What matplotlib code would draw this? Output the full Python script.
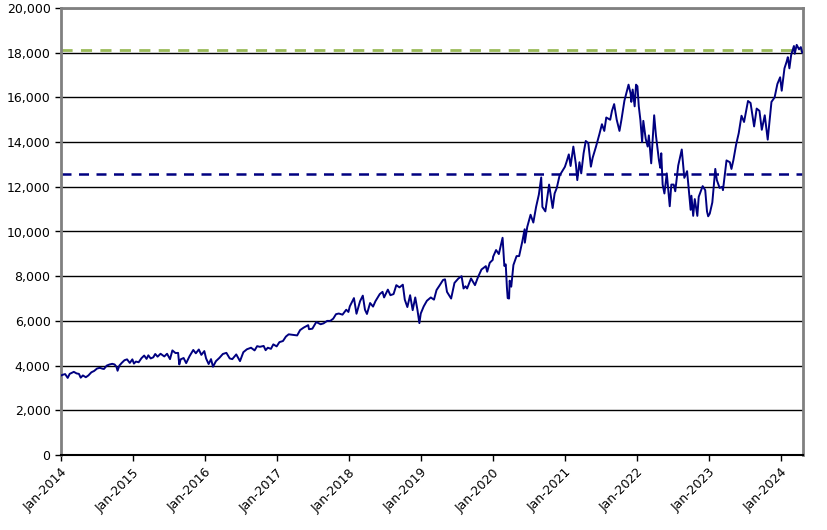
import matplotlib
matplotlib.use('Agg')
import matplotlib.pyplot as plt
import matplotlib.dates as mdates
import pandas as pd

# --- index level over time
dates = [
    '2014-01-02', '2014-01-10', '2014-01-22', '2014-02-04', '2014-02-14', '2014-02-28', '2014-03-07', '2014-03-21',
    '2014-04-02', '2014-04-11', '2014-04-22', '2014-05-07', '2014-05-20', '2014-06-04', '2014-06-18', '2014-07-03',
    '2014-07-17', '2014-07-31', '2014-08-07', '2014-08-21', '2014-09-04', '2014-09-18', '2014-09-30', '2014-10-09',
    '2014-10-15', '2014-10-24', '2014-11-05', '2014-11-19', '2014-12-02', '2014-12-16', '2014-12-29',
    '2015-01-06', '2015-01-16', '2015-01-30', '2015-02-13', '2015-02-27', '2015-03-11', '2015-03-20', '2015-04-01',
    '2015-04-14', '2015-04-24', '2015-05-06', '2015-05-21', '2015-06-09', '2015-06-23', '2015-07-08', '2015-07-20',
    '2015-08-05', '2015-08-18', '2015-08-24', '2015-08-31', '2015-09-15', '2015-09-28', '2015-10-15', '2015-11-03',
    '2015-11-16', '2015-12-01', '2015-12-14', '2015-12-29',
    '2016-01-07', '2016-01-20', '2016-02-01', '2016-02-11', '2016-02-26', '2016-03-15', '2016-04-01', '2016-04-19',
    '2016-05-06', '2016-05-19', '2016-06-08', '2016-06-27', '2016-07-14', '2016-08-01', '2016-08-22', '2016-09-09',
    '2016-09-22', '2016-10-06', '2016-10-25', '2016-11-04', '2016-11-15', '2016-12-01', '2016-12-13', '2016-12-30',
    '2017-01-13', '2017-01-31', '2017-02-15', '2017-03-01', '2017-03-20', '2017-04-13', '2017-04-28', '2017-05-16',
    '2017-06-08', '2017-06-12', '2017-06-29', '2017-07-19', '2017-08-10', '2017-08-25', '2017-09-12', '2017-09-28',
    '2017-10-13', '2017-10-27', '2017-11-10', '2017-11-29', '2017-12-18', '2017-12-29',
    '2018-01-05', '2018-01-26', '2018-02-08', '2018-02-26', '2018-03-12', '2018-03-23', '2018-04-02', '2018-04-18',
    '2018-05-03', '2018-05-15', '2018-06-06', '2018-06-20', '2018-06-28', '2018-07-17', '2018-07-30', '2018-08-15',
    '2018-08-29', '2018-09-14', '2018-10-01', '2018-10-11', '2018-10-24', '2018-11-07', '2018-11-20', '2018-12-03',
    '2018-12-14', '2018-12-24', '2018-12-31',
    '2019-01-15', '2019-01-31', '2019-02-20', '2019-03-08', '2019-03-21', '2019-04-05', '2019-04-23', '2019-05-03',
    '2019-05-13', '2019-06-03', '2019-06-20', '2019-07-10', '2019-07-26', '2019-08-05', '2019-08-15', '2019-08-23',
    '2019-09-12', '2019-10-02', '2019-10-17', '2019-11-04', '2019-11-26', '2019-12-03', '2019-12-16', '2019-12-31',
    '2020-01-02', '2020-01-17', '2020-01-31', '2020-02-19', '2020-02-28', '2020-03-06', '2020-03-12', '2020-03-16',
    '2020-03-23', '2020-03-26', '2020-04-03', '2020-04-14', '2020-04-30', '2020-05-13', '2020-05-29', '2020-06-10',
    '2020-06-11', '2020-06-23', '2020-07-10', '2020-07-24', '2020-08-07', '2020-08-21', '2020-09-02', '2020-09-08',
    '2020-09-23', '2020-10-12', '2020-10-30', '2020-11-09', '2020-11-20', '2020-12-04', '2020-12-31',
    '2021-01-08', '2021-01-20', '2021-01-29', '2021-02-12', '2021-02-25', '2021-03-04', '2021-03-15', '2021-03-24',
    '2021-04-05', '2021-04-16', '2021-04-29', '2021-05-12', '2021-05-21', '2021-06-07', '2021-06-24', '2021-07-07',
    '2021-07-19', '2021-07-29', '2021-08-18', '2021-08-27', '2021-09-07', '2021-09-20', '2021-10-04', '2021-10-14',
    '2021-10-29', '2021-11-19', '2021-11-30', '2021-12-03', '2021-12-10', '2021-12-20', '2021-12-27',
    '2022-01-03', '2022-01-10', '2022-01-18', '2022-01-27', '2022-02-02', '2022-02-14', '2022-02-24', '2022-03-02',
    '2022-03-14', '2022-03-29', '2022-04-07', '2022-04-22', '2022-04-29', '2022-05-04', '2022-05-11', '2022-05-20',
    '2022-06-01', '2022-06-16', '2022-06-24', '2022-07-06', '2022-07-14', '2022-07-29', '2022-08-16', '2022-08-29',
    '2022-09-12', '2022-09-30', '2022-10-04', '2022-10-13', '2022-10-21', '2022-11-03', '2022-11-10', '2022-11-30',
    '2022-12-13', '2022-12-22', '2022-12-28',
    '2023-01-05', '2023-01-18', '2023-02-02', '2023-02-10', '2023-02-24', '2023-03-09', '2023-03-13', '2023-03-31',
    '2023-04-17', '2023-04-25', '2023-05-05', '2023-05-19', '2023-06-01', '2023-06-15', '2023-06-28', '2023-07-18',
    '2023-07-31', '2023-08-18', '2023-08-31', '2023-09-14', '2023-09-26', '2023-10-11', '2023-10-26', '2023-11-14',
    '2023-11-30', '2023-12-14', '2023-12-28',
    '2024-01-05', '2024-01-19', '2024-01-30', '2024-02-05', '2024-02-13', '2024-02-22', '2024-03-07', '2024-03-11',
    '2024-03-21', '2024-04-02', '2024-04-11', '2024-04-18',
]
values = [
    3560, 3590, 3620, 3450, 3630, 3690, 3720, 3650,
    3630, 3460, 3560, 3480, 3560, 3700, 3760, 3870,
    3900, 3860, 3850, 4000, 4050, 4080, 4050, 3950,
    3770, 4000, 4120, 4240, 4280, 4120, 4280,
    4090, 4180, 4150, 4330, 4450, 4300, 4460, 4320,
    4370, 4520, 4400, 4530, 4410, 4530, 4290, 4680,
    4560, 4570, 4050, 4280, 4340, 4110, 4420, 4700,
    4550, 4720, 4480, 4650,
    4320, 4070, 4290, 3950, 4200, 4350, 4520, 4570,
    4320, 4290, 4500, 4200, 4600, 4730, 4800, 4680,
    4870, 4840, 4880, 4690, 4800, 4750, 4950, 4860,
    5050, 5100, 5300, 5400, 5380, 5350, 5590, 5700,
    5810, 5630, 5650, 5950, 5850, 5890, 6000, 6000,
    6100, 6300, 6330, 6280, 6500, 6400,
    6650, 7020, 6320, 6880, 7130, 6500, 6310, 6800,
    6640, 6880, 7200, 7300, 7050, 7400, 7150, 7200,
    7600, 7500, 7620, 6950, 6620, 7150, 6480, 7050,
    6500, 5900, 6330,
    6650, 6900, 7050, 6950, 7380, 7580, 7830, 7860,
    7300, 7000, 7700, 7900, 8000, 7450, 7550, 7450,
    7900, 7600, 7950, 8300, 8450, 8200, 8600, 8730,
    8870, 9170, 8990, 9720, 8460, 8530, 7500, 7020,
    7000, 7800, 7530, 8500, 8900, 8900, 9550, 10100,
    9500, 10200, 10750, 10400, 11100, 11650, 12420, 11100,
    10900, 12100, 11050, 11700, 11950, 12500, 12890,
    13100, 13450, 12930, 13800, 13000, 12300, 13100, 12600,
    13500, 14050, 13950, 12900, 13300, 13800, 14350, 14800,
    14500, 15100, 15000, 15400, 15700, 15000, 14500, 15000,
    15850, 16570, 16150, 15800, 16350, 15600, 16570,
    16500, 15600, 15000, 14000, 14950, 14150, 13800, 14300,
    13050, 15200, 14300, 13200, 12850, 13500, 12100, 11700,
    12600, 11130, 12100, 12100, 11800, 12950, 13670, 12400,
    12700, 10970, 11600, 10700, 11450, 10700, 11550, 12030,
    11850, 10900, 10680,
    10800, 11300, 12800, 12300, 11950, 12000, 11850, 13180,
    13100, 12800, 13200, 13900, 14400, 15180, 14900, 15840,
    15750, 14700, 15500, 15400, 14550, 15200, 14110, 15800,
    16000, 16600, 16900,
    16300, 17300, 17600, 17800, 17300, 17900, 18300, 17950,
    18350, 18150, 18250, 18000,
]

level_green = 18100  # upper dashed reference line
level_blue = 12580   # lower dashed reference line

x = pd.to_datetime(dates)

fig = plt.figure(figsize=(8.27, 5.30), dpi=100)
ax = fig.add_axes((61 / 827, 75 / 530, 742 / 827, 447 / 530))

ax.plot(x, values, color='#000080', lw=1.4, zorder=3)

ax.axhline(level_green, color='#9BBB59', lw=2, dashes=(4, 3), zorder=2)
ax.axhline(level_blue, color='#000080', lw=1.8, dashes=(4, 3), zorder=2)

ax.set_ylim(0, 20000)
ax.set_yticks(range(0, 20001, 2000))
ax.yaxis.set_major_formatter(matplotlib.ticker.FuncFormatter(lambda v, p: f'{int(v):,}'))
ax.grid(axis='y', color='black', lw=1, zorder=1)
ax.set_axisbelow(True)

ax.set_xlim(pd.Timestamp('2014-01-01'), pd.Timestamp('2024-04-22'))
ax.xaxis.set_major_locator(mdates.YearLocator())
ax.xaxis.set_major_formatter(mdates.DateFormatter('%b-%Y'))
for lab in ax.get_xticklabels():
    lab.set_rotation(45)
    lab.set_ha('right')
    lab.set_rotation_mode('anchor')

ax.tick_params(axis='both', labelsize=9, direction='out', length=4, width=1, color='black')
ax.tick_params(axis='x', pad=4)

for side in ['top', 'right', 'left']:
    ax.spines[side].set_color('#808080')
    ax.spines[side].set_linewidth(2)
ax.spines['bottom'].set_color('black')
ax.spines['bottom'].set_linewidth(1.5)

fig.savefig('out.png', dpi=100)
